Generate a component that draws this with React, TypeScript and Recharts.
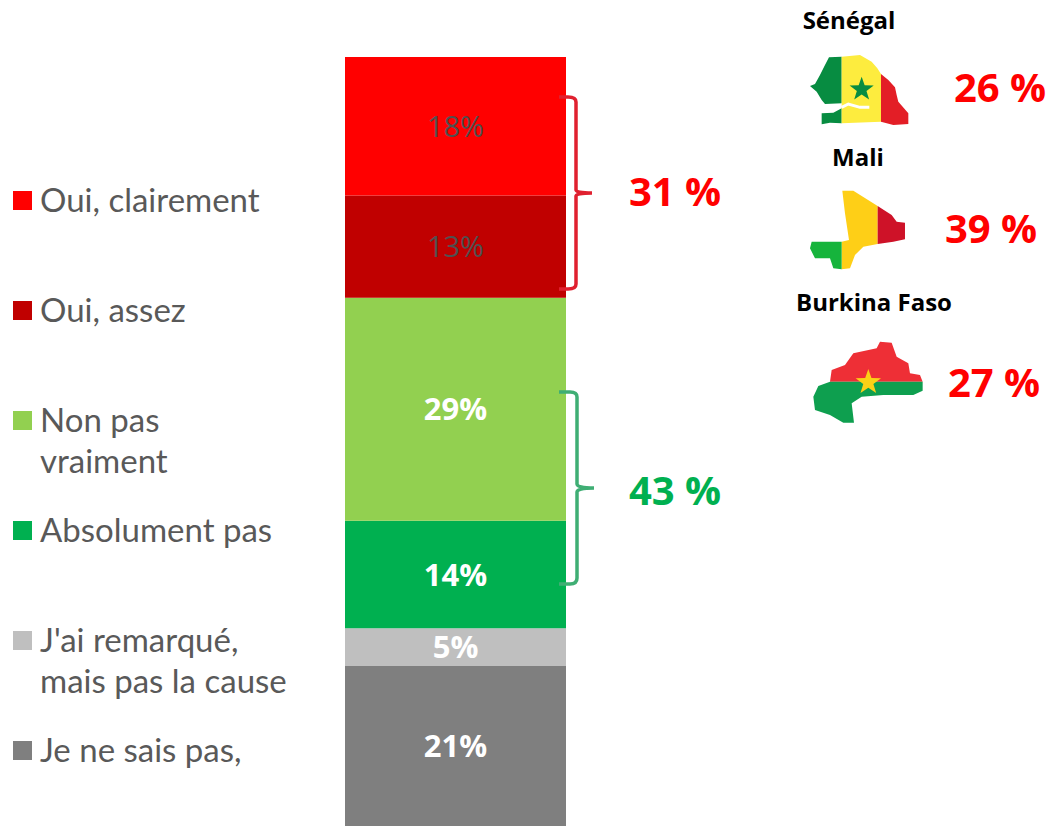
import { BarChart, Bar, XAxis, YAxis, LabelList } from 'recharts'

const seriesNames = ['Je ne sais pas,', "J'ai remarqué, mais pas la cause", 'Absolument pas', 'Non pas vraiment', 'Oui, assez', 'Oui, clairement']
const seriesKeys = ['nsp', 'remarque', 'absolument', 'nonPas', 'assez', 'clairement']
const seriesValues = [20.8, 4.9, 14.0, 29.0, 13.3, 18.0]
const seriesColors = ['#7f7f7f', '#bfbfbf', '#00b050', '#92d050', '#c00000', '#ff0000']
const labelColors = ['#ffffff', '#ffffff', '#ffffff', '#ffffff', '#505050', '#505050']

const legendItems = [
  { lines: ['Oui, clairement'], color: '#ff0000', y: 191 },
  { lines: ['Oui, assez'], color: '#c00000', y: 301 },
  { lines: ['Non pas', 'vraiment'], color: '#92d050', y: 411 },
  { lines: ['Absolument pas'], color: '#00b050', y: 521 },
  { lines: ["J'ai remarqué,", 'mais pas la cause'], color: '#bfbfbf', y: 631 },
  { lines: ['Je ne sais pas,'], color: '#7f7f7f', y: 741 },
]

const countries = [
  { name: 'Sénégal', value: '26 %', nameX: 849, nameY: 29, valueX: 1000, valueY: 102 },
  { name: 'Mali', value: '39 %', nameX: 858, nameY: 166, valueX: 991, valueY: 243 },
  { name: 'Burkina Faso', value: '27 %', nameX: 874, nameY: 311, valueX: 994, valueY: 397 },
]

const chartData = [
  seriesKeys.reduce((row: any, key, i) => ({ ...row, [key]: seriesValues[i] }), { name: 'total' }),
]

const font = '"Open Sans", "Noto Sans", sans-serif'

function star(cx: number, cy: number, r: number) {
  const pts = []
  for (let i = 0; i < 10; i++) {
    const rad = i % 2 === 0 ? r : r * 0.4
    const a = -Math.PI / 2 + (i * Math.PI) / 5
    pts.push(`${cx + rad * Math.cos(a)},${cy + rad * Math.sin(a)}`)
  }
  return pts.join(' ')
}

function Bracket({ d, color }: { d: string; color: string }) {
  return <path d={d} fill="none" stroke={color} strokeWidth={3.5} />
}

function Overlay() {
  return (
    <svg width={1049} height={826} style={{ position: 'absolute', left: 0, top: 0 }}>
      {legendItems.map(item => (
        <g key={item.lines[0]}>
          <rect x={13} y={item.y} width={19} height={19} fill={item.color} />
          {item.lines.map((line, i) => (
            <text key={line} x={40} y={item.y + 21 + i * 41} fontFamily="Lato, sans-serif" fontSize={33} fill="#595959">
              {line}
            </text>
          ))}
        </g>
      ))}

      <Bracket d="M559,97 H568 Q576,97 576,102 V190 Q576,193 592,193 Q576,193 576,196 V284 Q576,289 568,289 H559" color="#e0202f" />
      <Bracket d="M559,392 H570 Q577,392 577,397 V484 Q577,488 594,488 Q577,488 577,492 V578 Q577,584 570,584 H559" color="#3fae74" />
      <text x={675} y={206} textAnchor="middle" fontFamily={font} fontWeight={700} fontSize={40} fill="#ff0000">31 %</text>
      <text x={675} y={505} textAnchor="middle" fontFamily={font} fontWeight={700} fontSize={40} fill="#00b050">43 %</text>

      {countries.map(c => (
        <g key={c.name} fontFamily={font} fontWeight={700}>
          <text x={c.nameX} y={c.nameY} textAnchor="middle" fontSize={24} fill="#000000">{c.name}</text>
          <text x={c.valueX} y={c.valueY} textAnchor="middle" fontSize={40} fill="#ff0000">{c.value}</text>
        </g>
      ))}

      {/* Sénégal */}
      <g transform="translate(780,0) scale(0.3333)">
        <polygon points="90,258 105,252 120,225 135,195 147,172 185,170 185,310 135,312 125,300 110,275" fill="#078c41" />
        <polygon points="125,340 160,338 185,325 185,370 150,368 125,373" fill="#078c41" />
        <polygon points="185,170 240,165 262,178 275,185 292,205 303,222 303,365 185,370" fill="#fdec3e" />
        <polygon points="303,222 325,240 345,262 350,285 355,305 372,325 385,340 385,372 340,375 303,365" fill="#e31e26" />
        <polyline points="185,322 205,312 240,322 268,322" fill="none" stroke="#ffffff" strokeWidth={9} />
        <polygon points={star(245, 268, 38)} fill="#078c41" />
      </g>

      {/* Mali */}
      <g transform="translate(780,180) scale(0.3333)">
        <polygon points="187,32 220,32 293,78 293,192 250,200 225,225 210,265 185,268 185,185 207,180 195,100" fill="#fecf17" />
        <polygon points="293,78 335,105 350,125 375,128 375,178 340,185 293,192" fill="#ce1228" />
        <polygon points="95,185 185,185 185,268 160,265 150,235 105,235 90,205" fill="#16b43c" />
      </g>

      {/* Burkina Faso */}
      <g transform="translate(780,180) scale(0.3333)">
        <polygon points="150,605 155,570 195,555 220,520 290,505 300,485 335,488 350,530 385,550 390,580 420,585 428,605" fill="#ee2f36" />
        <polygon points="115,618 150,605 428,605 428,632 400,645 310,645 245,650 215,670 222,728 190,728 150,705 105,690 100,650" fill="#0e9f4f" />
        <polygon points={star(265, 607, 40)} fill="#fcd116" />
      </g>
    </svg>
  )
}

export default function App() {
  return (
    <div style={{ position: 'absolute', left: 0, top: 0, width: 1049, height: 826, background: '#ffffff', overflow: 'hidden' }}>
      <BarChart
        width={1049}
        height={826}
        data={chartData}
        margin={{ top: 57, right: 483, bottom: 0, left: 345 }}
        barCategoryGap={0}
      >
        <XAxis dataKey="name" hide />
        <YAxis hide domain={[0, 100]} />
        {seriesKeys.map((key, i) => (
          <Bar key={key} dataKey={key} name={seriesNames[i]} stackId="a" fill={seriesColors[i]} isAnimationActive={false}>
            <LabelList
              dataKey={key}
              position="center"
              formatter={(v: any) => `${Math.round(v)}%`}
              fill={labelColors[i]}
              fontFamily={font}
              fontSize={i < 4 ? 31 : 29}
              fontWeight={i < 4 ? 700 : 400}
            />
          </Bar>
        ))}
      </BarChart>
      <Overlay />
    </div>
  )
}
